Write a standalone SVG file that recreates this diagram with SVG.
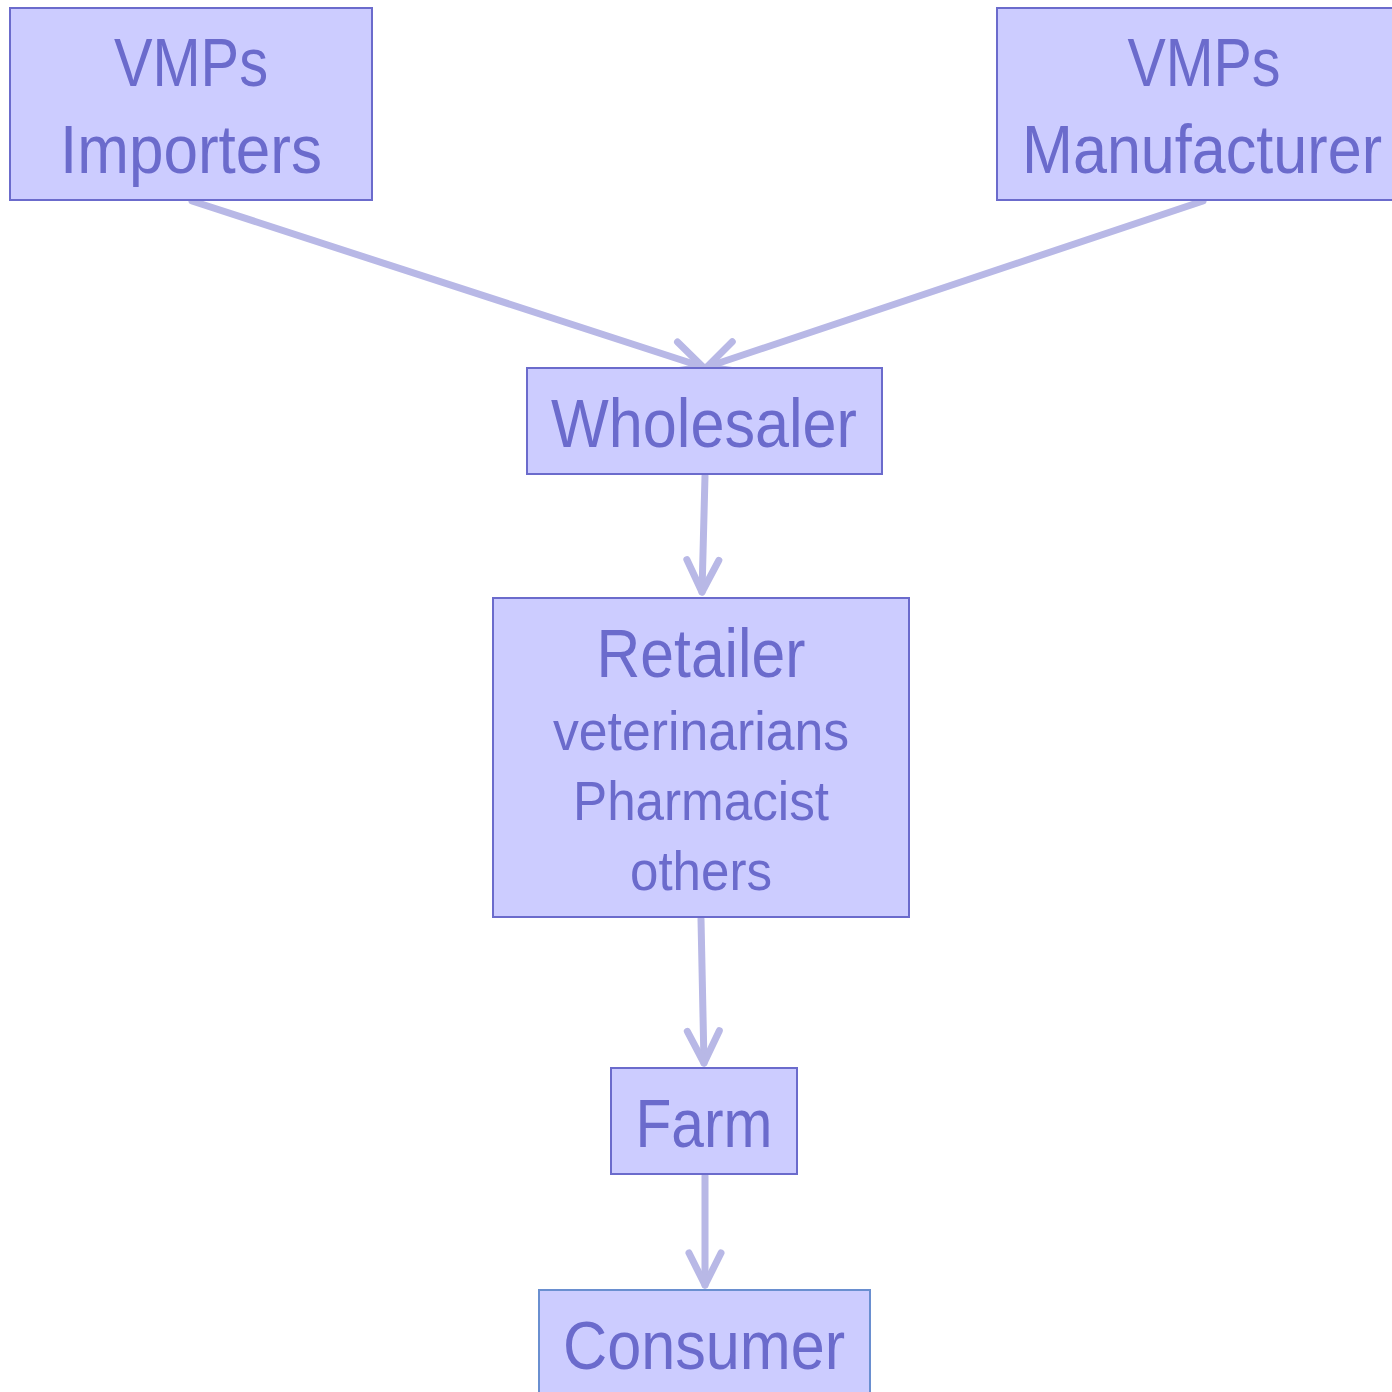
<svg xmlns="http://www.w3.org/2000/svg" width="1392" height="1392" viewBox="0 0 1392 1392">
<style>
.box{fill:#CCCCFF;stroke:#6B6BCC;stroke-width:2}
.t{font-family:"Liberation Sans Narrow","Arial Narrow","Liberation Sans",sans-serif;fill:#6B6BCC;text-anchor:middle}
.big{font-size:68px}
.small{font-size:55px}
.c{fill:none;stroke:#B8B8E6;stroke-width:7;stroke-linecap:round;stroke-linejoin:round}
</style>
<defs>
<marker id="arr" markerUnits="userSpaceOnUse" viewBox="-40 -20 44 40" refX="0" refY="0" markerWidth="44" markerHeight="40" orient="auto" overflow="visible">
<path d="M -32 -16 L 0 0 L -32 16" fill="none" stroke="#B8B8E6" stroke-width="7" stroke-linecap="round" stroke-linejoin="round"/>
</marker>
</defs>
<g id="connectors">
<line class="c" x1="192" y1="201" x2="703" y2="367" marker-end="url(#arr)"/>
<line class="c" x1="1203" y1="201" x2="707" y2="367" marker-end="url(#arr)"/>
<line class="c" x1="705" y1="476" x2="702" y2="592" marker-end="url(#arr)"/>
<line class="c" x1="701" y1="919" x2="704" y2="1063" marker-end="url(#arr)"/>
<line class="c" x1="705" y1="1176" x2="705" y2="1285" marker-end="url(#arr)"/>
</g>
<g id="importers">
<rect class="box" x="10" y="8" width="362" height="192"/>
<text class="t big" x="191" y="86" textLength="154" lengthAdjust="spacingAndGlyphs">VMPs</text>
<text class="t big" x="191" y="173" textLength="262" lengthAdjust="spacingAndGlyphs">Importers</text>
</g>
<g id="manufacturer">
<rect class="box" x="997" y="8" width="400" height="192"/>
<text class="t big" x="1204" y="86" textLength="153" lengthAdjust="spacingAndGlyphs">VMPs</text>
<text class="t big" x="1202" y="173" textLength="360" lengthAdjust="spacingAndGlyphs">Manufacturer</text>
</g>
<g id="wholesaler">
<rect class="box" x="527" y="368" width="355" height="106"/>
<text class="t big" x="704" y="447" textLength="306" lengthAdjust="spacingAndGlyphs">Wholesaler</text>
</g>
<g id="retailer">
<rect class="box" x="493" y="598" width="416" height="319"/>
<text class="t big" x="701" y="677" textLength="209" lengthAdjust="spacingAndGlyphs">Retailer</text>
<text class="t small" x="701" y="750" textLength="296" lengthAdjust="spacingAndGlyphs">veterinarians</text>
<text class="t small" x="701" y="820" textLength="256" lengthAdjust="spacingAndGlyphs">Pharmacist</text>
<text class="t small" x="701" y="890" textLength="142" lengthAdjust="spacingAndGlyphs">others</text>
</g>
<g id="farm">
<rect class="box" x="611" y="1068" width="186" height="106"/>
<text class="t big" x="704" y="1147" textLength="137" lengthAdjust="spacingAndGlyphs">Farm</text>
</g>
<g id="consumer">
<rect class="box" x="539" y="1290" width="331" height="110" style="stroke:#6A8FD0"/>
<text class="t big" x="704" y="1369" textLength="282" lengthAdjust="spacingAndGlyphs">Consumer</text>
</g>
</svg>
